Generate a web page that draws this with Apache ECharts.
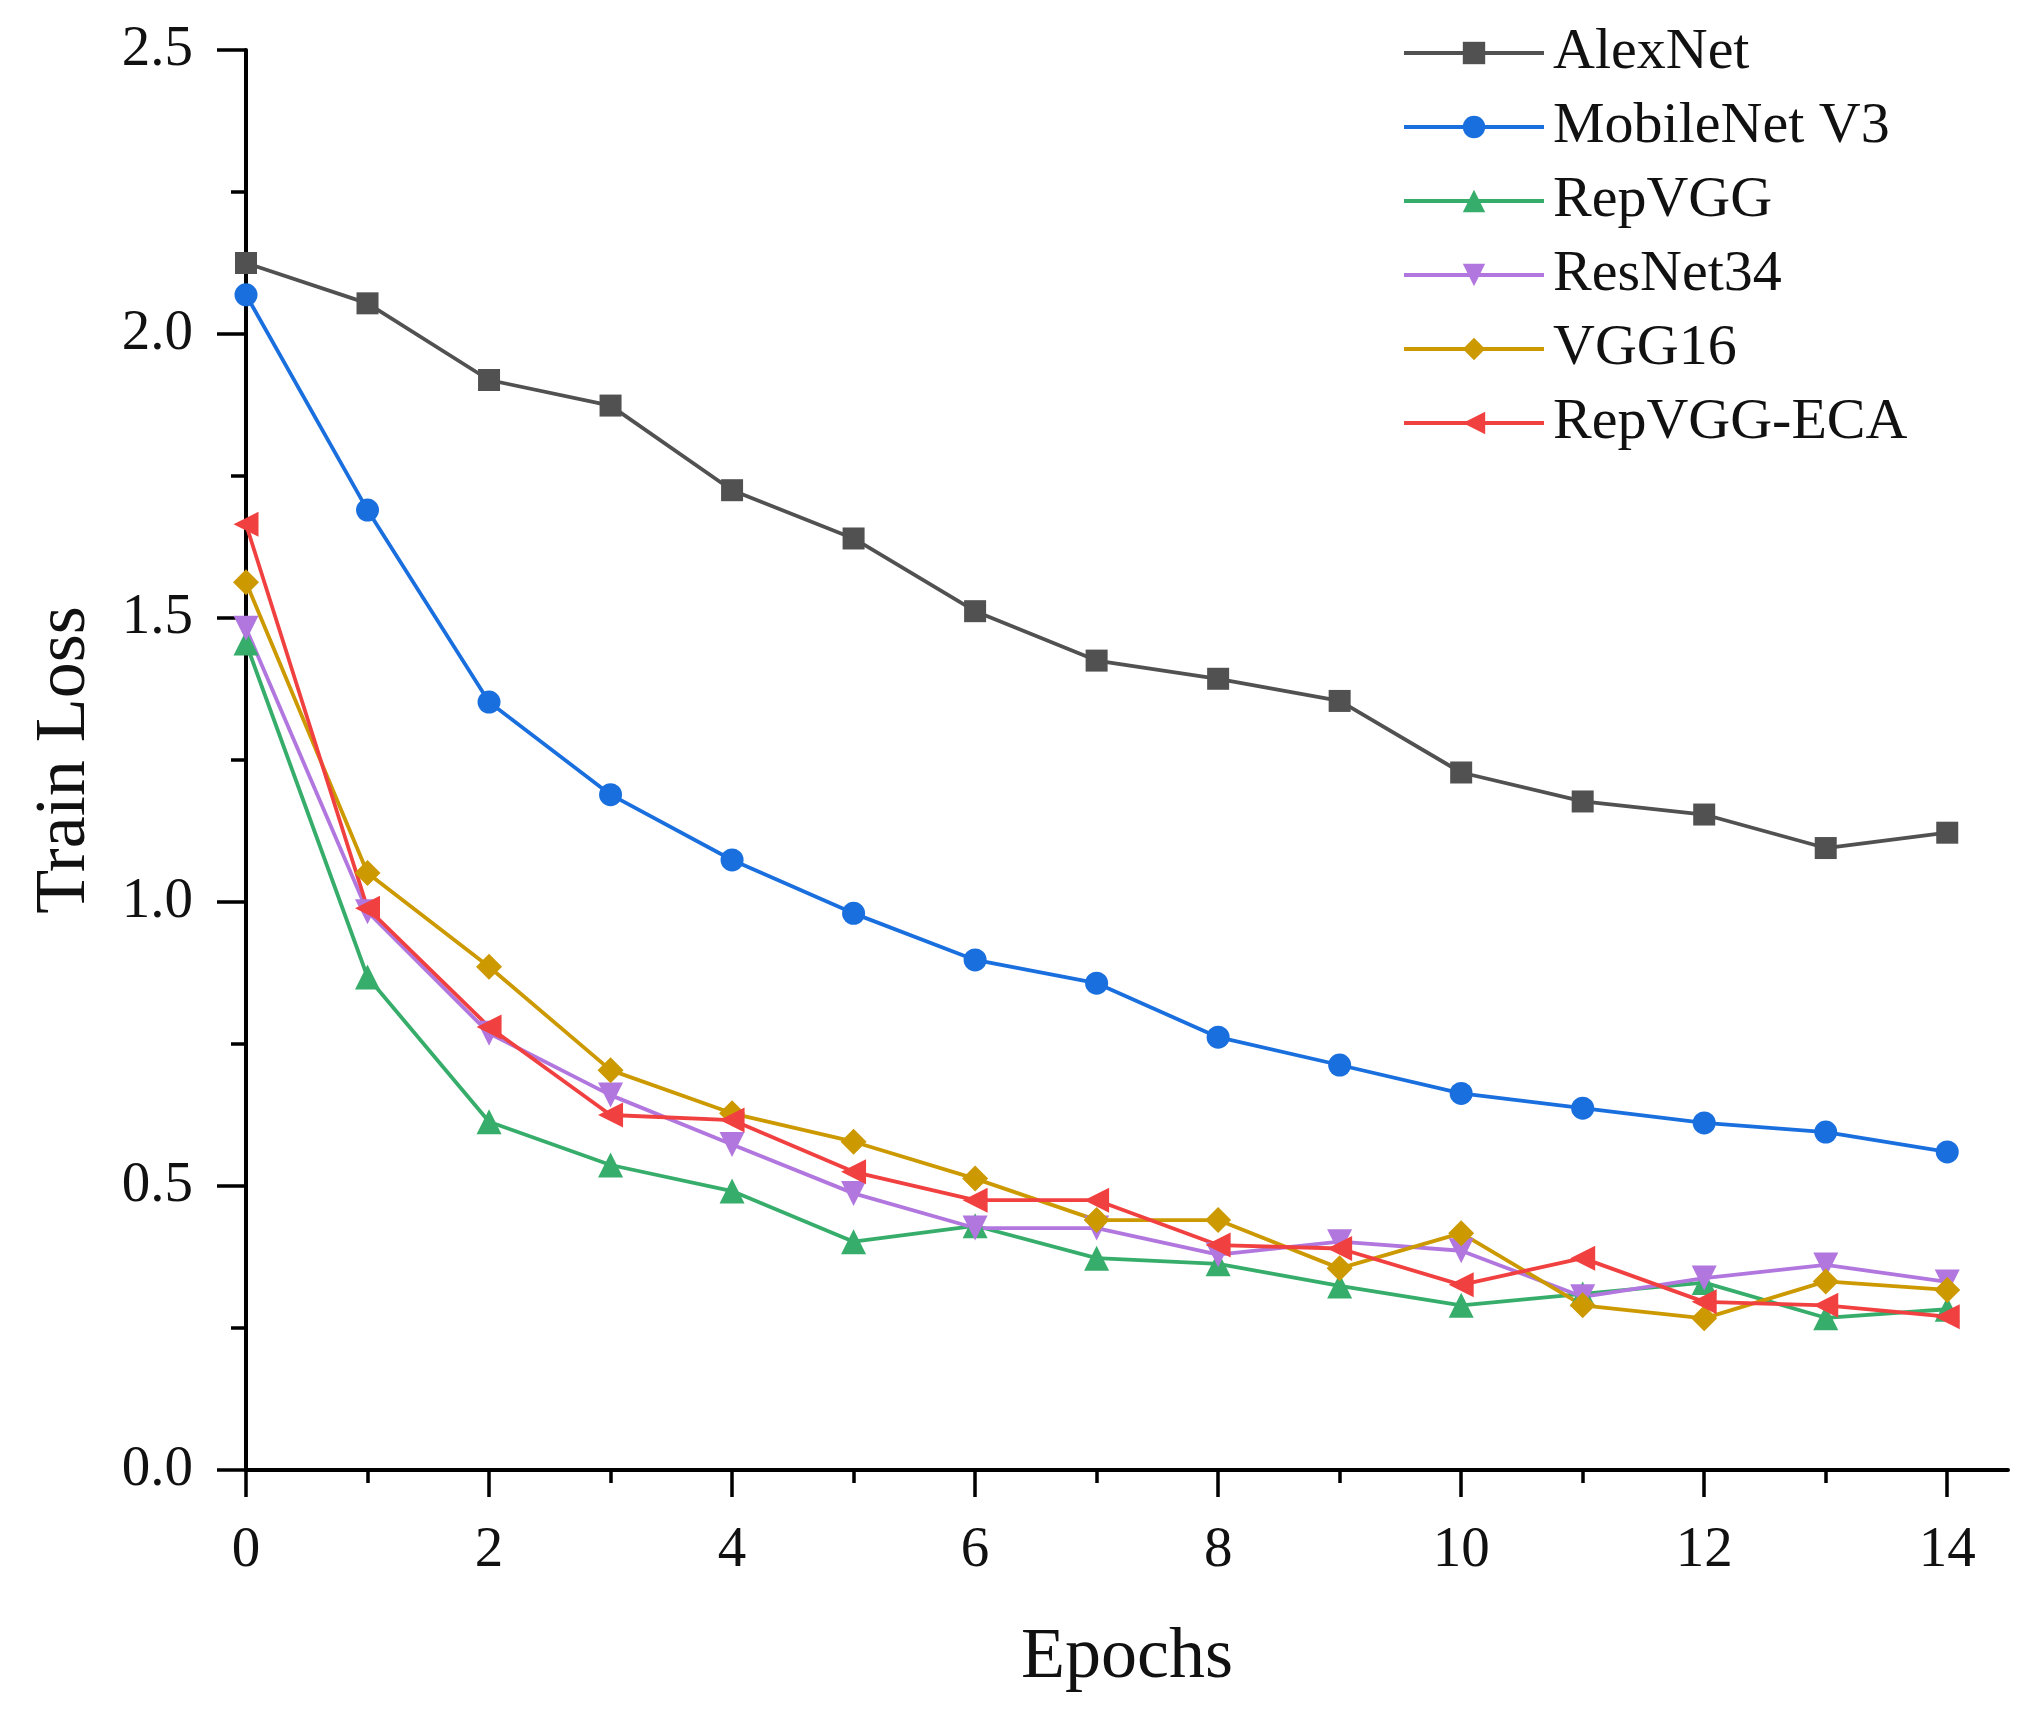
<!DOCTYPE html>
<html>
<head>
<meta charset="utf-8">
<script src="https://cdn.jsdelivr.net/npm/echarts@6/dist/echarts.min.js"></script>
<style>html,body{margin:0;padding:0;background:#fff;}#c{width:2041px;height:1735px;}</style>
</head>
<body>
<div id="c"></div>
<script>
const epochs = [0,1,2,3,4,5,6,7,8,9,10,11,12,13,14];
const seriesNames = ['AlexNet','MobileNet V3','RepVGG','ResNet34','VGG16','RepVGG-ECA'];
const alexNet   = [2.125, 2.054, 1.919, 1.874, 1.725, 1.640, 1.512, 1.425, 1.393, 1.354, 1.228, 1.177, 1.154, 1.095, 1.122];
const mobileNet = [2.069, 1.690, 1.352, 1.189, 1.074, 0.980, 0.898, 0.857, 0.762, 0.713, 0.663, 0.637, 0.611, 0.595, 0.560];
const repVGG    = [1.456, 0.868, 0.613, 0.537, 0.491, 0.402, 0.430, 0.373, 0.363, 0.324, 0.290, 0.310, 0.330, 0.268, 0.283];
const resNet34  = [1.482, 0.983, 0.769, 0.660, 0.573, 0.487, 0.426, 0.426, 0.379, 0.402, 0.386, 0.305, 0.338, 0.361, 0.331];
const vgg16     = [1.563, 1.051, 0.886, 0.704, 0.628, 0.578, 0.513, 0.440, 0.440, 0.355, 0.417, 0.290, 0.267, 0.332, 0.317];
const repVGGECA = [1.665, 0.989, 0.780, 0.625, 0.616, 0.525, 0.475, 0.475, 0.396, 0.390, 0.326, 0.373, 0.296, 0.290, 0.270];
const xMajorTicks = [0,2,4,6,8,10,12,14];
const xMinorTicks = [1,3,5,7,9,11,13];

const colors = ['#515151','#1A6FDF','#37AD6B','#B177DE','#CC9900','#F14040'];
const symbols = ['rect','circle','triangle','path://M0,0 L10,0 L5,9 Z','diamond','path://M9,0 L9,10 L0,5 Z'];
const symbolSizes = [22, 23, 25, 25, 26, 25];
const values = [alexNet, mobileNet, repVGG, resNet34, vgg16, repVGGECA];
const FONT = '"Liberation Serif", "Times New Roman", serif';

const chart = echarts.init(document.getElementById('c'));
chart.setOption({
  animation: false,
  backgroundColor: '#ffffff',
  grid: { left: 246, right: 33, top: 50, bottom: 265, containLabel: false },
  legend: {
    orient: 'vertical',
    left: 1397,
    top: 18,
    itemWidth: 140,
    itemHeight: 28,
    itemGap: 14,
    lineStyle: { width: 4 },
    textStyle: { fontFamily: FONT, fontSize: 58, color: '#111', lineHeight: 60, padding: [0,0,0,4] },
    data: seriesNames
  },
  xAxis: [{
    type: 'value', min: 0, max: 14.5, position: 'bottom',
    name: 'Epochs', nameLocation: 'middle', nameGap: 152,
    nameTextStyle: { fontFamily: FONT, fontSize: 72, color: '#111' },
    axisLine: { show: true, onZero: false, lineStyle: { color: '#000', width: 4 } },
    axisTick: { show: true, length: 27, lineStyle: { color: '#000', width: 3.5 }, customValues: xMajorTicks },
    axisLabel: { margin: 53, fontFamily: FONT, fontSize: 57, color: '#111', customValues: xMajorTicks },
    splitLine: { show: false }
  }, {
    type: 'value', min: 0, max: 14.5, position: 'bottom', gridIndex: 0,
    axisLine: { show: false },
    axisTick: { show: true, length: 13, lineStyle: { color: '#000', width: 3.5 }, customValues: xMinorTicks },
    axisLabel: { show: false },
    splitLine: { show: false }
  }],
  yAxis: {
    type: 'value', min: 0, max: 2.5, interval: 0.5,
    name: 'Train Loss', nameLocation: 'middle', nameGap: 145,
    nameTextStyle: { fontFamily: FONT, fontSize: 72, color: '#111' },
    axisLine: { show: true, onZero: false, lineStyle: { color: '#000', width: 4 } },
    axisTick: { show: true, length: 29, lineStyle: { color: '#000', width: 3.5 } },
    minorTick: { show: true, splitNumber: 2, length: 15, lineStyle: { color: '#000', width: 3.5 } },
    axisLabel: { margin: 53, fontFamily: FONT, fontSize: 57, color: '#111', formatter: v => v.toFixed(1) },
    splitLine: { show: false }
  },
  series: seriesNames.map((name, i) => ({
    name: name,
    type: 'line',
    xAxisIndex: 0,
    data: epochs.map((e, k) => [e, values[i][k]]),
    symbol: symbols[i],
    symbolSize: symbolSizes[i],
    showAllSymbol: true,
    color: colors[i],
    lineStyle: { color: colors[i], width: 3.8 },
    itemStyle: { color: colors[i], borderWidth: 0 },
    clip: false
  }))
});
</script>
</body>
</html>
